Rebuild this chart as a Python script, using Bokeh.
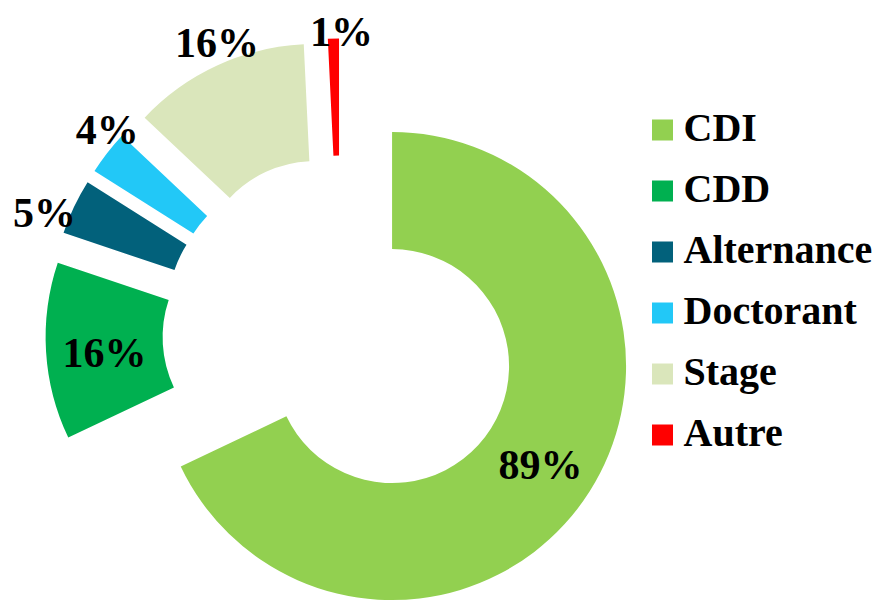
import math
from bokeh.plotting import figure
from bokeh.models import Range1d, ColumnDataSource
from bokeh.embed import file_html
from bokeh.resources import INLINE
from bokeh.core.properties import value

# ---- data ----
categories = ["CDI", "CDD", "Alternance", "Doctorant", "Stage", "Autre"]
values = [89, 16, 5, 4, 16, 1]
labels = ["89%", "16%", "5%", "4%", "16%", "1%"]
colors = ["#92D050", "#00B050", "#02617B", "#22C8F7", "#DAE6BB", "#FF0000"]
label_inside = [True, True, False, False, False, False]

# ---- layout / style ----
W, H = 881, 605
FONT = value("Liberation Serif")
cx, cy = 340.0, -333.0      # donut centre (pixel units, y up)
R_OUT, R_IN = 234.0, 117.0
EXPLODE = 61.0
LABEL_GAP = 0.0
TOP_LIMIT = 54.0            # lowest allowed bottom edge for labels near the top

p = figure(width=W, height=H, output_backend="svg", toolbar_location=None,
           x_range=Range1d(0, W), y_range=Range1d(-H, 0),
           min_border=0)
p.axis.visible = False
p.grid.visible = False
p.outline_line_color = None
p.background_fill_color = "white"
p.border_fill_color = "white"

total = float(sum(values))
xs, ys, a0s, a1s = [], [], [], []
in_x, in_y, in_t = [], [], []
out_groups = {}
cum = 0.0
for v, lab, inside in zip(values, labels, label_inside):
    a0 = math.pi / 2 - 2 * math.pi * (cum + v) / total
    a1 = math.pi / 2 - 2 * math.pi * cum / total
    m = (a0 + a1) / 2
    vx = cx + EXPLODE * math.cos(m)
    vy = cy + EXPLODE * math.sin(m)
    xs.append(vx); ys.append(vy); a0s.append(a0); a1s.append(a1)
    if inside:
        rm = (R_OUT + R_IN) / 2
        in_x.append(vx + rm * math.cos(m))
        in_y.append(vy + rm * math.sin(m) - 5)
        in_t.append(lab)
    else:
        c, s = math.cos(m), math.sin(m)
        px = vx + (R_OUT + LABEL_GAP) * c
        py = vy + (R_OUT + LABEL_GAP) * s
        al = "right" if c < -0.85 else ("left" if c > 0.85 else "center")
        if s > 0.5:
            bl = "bottom"
            if py > -TOP_LIMIT:      # keep the label inside the frame
                py = -TOP_LIMIT
                px += 8
        elif s < -0.5:
            bl = "top"
        else:
            bl = "middle"
            py -= 6
            px += 2
        out_groups.setdefault((al, bl), ([], [], []))
        g = out_groups[(al, bl)]
        g[0].append(px); g[1].append(py); g[2].append(lab)
    cum += v

src = ColumnDataSource(dict(x=xs, y=ys, start=a0s, end=a1s, color=colors, cat=categories))
p.annular_wedge(x="x", y="y", inner_radius=R_IN, outer_radius=R_OUT,
                start_angle="start", end_angle="end", fill_color="color",
                line_color=None, source=src)

p.text(x=in_x, y=in_y, text=in_t, text_font=FONT, text_font_style="bold",
       text_font_size="42px", text_align="center", text_baseline="middle",
       text_color="black")
for (al, bl), (gx, gy, gt) in out_groups.items():
    p.text(x=gx, y=gy, text=gt, text_font=FONT, text_font_style="bold",
           text_font_size="42px", text_align=al, text_baseline=bl,
           text_color="black")

# ---- legend (manual) ----
LEG_X, LEG_Y0, LEG_STEP = 662.0, -129.5, 61.0
leg_y = [LEG_Y0 - LEG_STEP * i for i in range(len(categories))]
p.scatter(x=[LEG_X] * len(categories), y=leg_y, marker="square", size=21,
          fill_color=colors, line_color=None)
p.text(x=[LEG_X + 21] * len(categories), y=[yy + 3 for yy in leg_y], text=categories,
       text_font=FONT, text_font_style="bold", text_font_size="40px",
       text_align="left", text_baseline="middle", text_color="black")

open("out.html", "w").write(file_html(p, INLINE))
